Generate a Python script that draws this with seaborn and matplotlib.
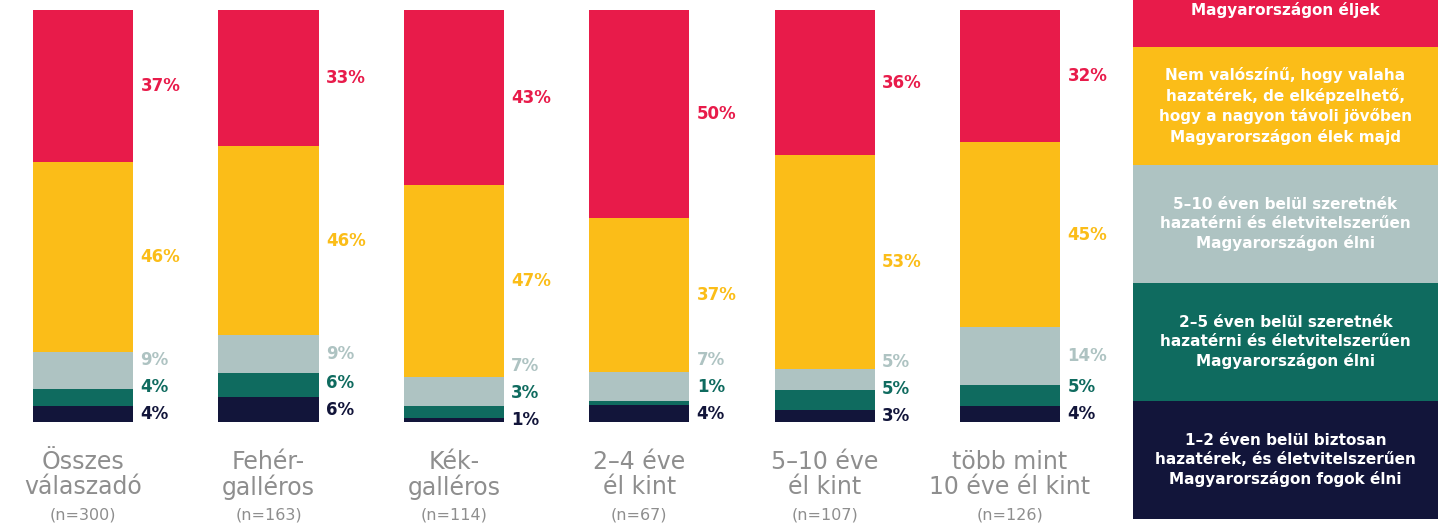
import seaborn as sns
import matplotlib.pyplot as plt
import pandas as pd
import numpy as np
from matplotlib.patches import Rectangle

# --- Data ---
groups = ["Összes\nválaszadó", "Fehér-\ngalléros", "Kék-\ngalléros",
          "2–4 éve\nél kint", "5–10 éve\nél kint", "több mint\n10 éve él kint"]
sizes = ["(n=300)", "(n=163)", "(n=114)", "(n=67)", "(n=107)", "(n=126)"]

# answers from the bottom of the stack upwards
answers = [
    "1–2 éven belül biztosan\nhazatérek, és életvitelszerűen\nMagyarországon fogok élni",
    "2–5 éven belül szeretnék\nhazatérni és életvitelszerűen\nMagyarországon élni",
    "5–10 éven belül szeretnék\nhazatérni és életvitelszerűen\nMagyarországon élni",
    "Nem valószínű, hogy valaha\nhazatérek, de elképzelhető,\nhogy a nagyon távoli jövőben\nMagyarországon élek majd",
    "Magyarországon éljek",
]
colors = ["#12153a", "#0f6b5f", "#aec3c2", "#fbbd18", "#e81b4a"]

pct_1_2 = [4, 6, 1, 4, 3, 4]
pct_2_5 = [4, 6, 3, 1, 5, 5]
pct_5_10 = [9, 9, 7, 7, 5, 14]
pct_later = [46, 46, 47, 37, 53, 45]
pct_top = [37, 33, 43, 50, 36, 32]
series = [pct_1_2, pct_2_5, pct_5_10, pct_later, pct_top]

# --- Setup ---
sns.set_theme(style="white")
plt.rcParams['font.family'] = ['DejaVu Sans']

W, H = 1445, 524
fig = plt.figure(figsize=(W / 100, H / 100), dpi=100)
ax = fig.add_axes([0, (H - 422) / H, 1120 / W, 412 / H])

vals = np.array(series, dtype=float)
shares = vals / vals.sum(axis=0) * 100  # every bar fills the full height

bar_w = 0.54
bottom = np.zeros(len(groups))
for i, ans in enumerate(answers):
    df = pd.DataFrame({'group': groups, 'share': shares[i]})
    sns.barplot(data=df, x='group', y='share', order=groups, color=colors[i],
                width=bar_w, bottom=bottom, errorbar=None, saturation=1,
                linewidth=0, ax=ax)
    bottom = bottom + shares[i]

# percentage labels, nudged upwards where the small segments are crowded
gap = 6.5
for j in range(len(groups)):
    base = 0
    prev = -100
    for i in range(len(answers)):
        mid = base + shares[i][j] / 2
        ypos = max(mid, prev + gap)
        prev = ypos
        base += shares[i][j]
        ax.text(j + bar_w / 2 + 0.04, ypos, f"{series[i][j]}%", color=colors[i],
                fontsize=12, fontweight='bold', va='center', ha='left')

ax.set_xlim(-0.448, 5.593)
ax.set_ylim(0, 100)
ax.set_xticks(range(len(groups)))
ax.set_xticklabels(groups, fontsize=17, color='#8e8e8e', linespacing=1.05)
ax.tick_params(axis='x', length=0, pad=20)
ax.set_yticks([])
ax.set_xlabel("")
ax.set_ylabel("")
sns.despine(ax=ax, left=True, bottom=True)

# sample sizes under the group names
for j, s in enumerate(sizes):
    x_fig = fig.transFigure.inverted().transform(ax.transData.transform((j, 0)))[0]
    fig.text(x_fig, 1 - 515 / H, s, ha='center', va='center',
             fontsize=11.5, color='#8e8e8e')

# --- Legend boxes on the right ---
box_h = 118
for k in range(len(answers)):
    idx = len(answers) - 1 - k  # top box is the top of the stack
    y_bot = 47 + box_h * k
    fig.patches.append(Rectangle((1133 / W, 1 - y_bot / H), 305 / W, box_h / H,
                                 transform=fig.transFigure, facecolor=colors[idx],
                                 edgecolor='none', zorder=0))
    if k == 0:
        ty, va = 1 - 2 / H, 'top'
    else:
        ty, va = 1 - (y_bot - box_h / 2) / H, 'center'
    fig.text(1285.5 / W, ty, answers[idx], ha='center', va=va, color='white',
             fontsize=11, fontweight='bold', linespacing=1.35)

plt.savefig("out.png", dpi=100)
plt.close()
